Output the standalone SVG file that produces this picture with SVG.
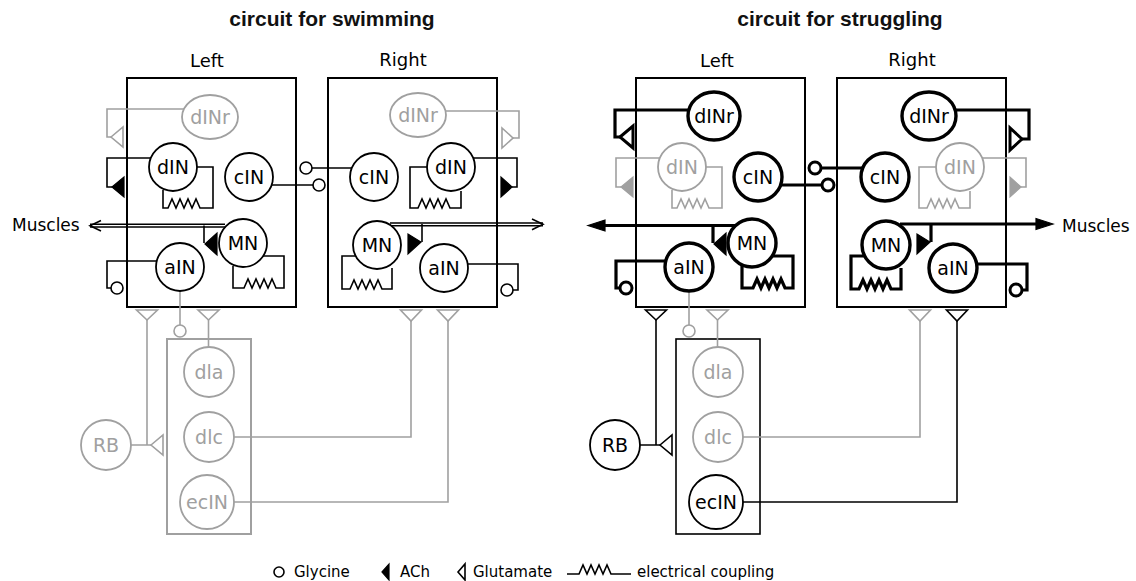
<svg xmlns="http://www.w3.org/2000/svg" width="1136" height="581" viewBox="0 0 1136 581">
<style>
.ttl{font-family:"Liberation Sans",Arial,sans-serif;font-weight:bold;font-size:21px;text-anchor:middle;fill:#111}
.lbl{font-family:"DejaVu Sans",sans-serif;font-size:18px;text-anchor:middle;fill:#000}
.mus{font-family:"DejaVu Sans",sans-serif;font-size:17px;fill:#000}
.leg{font-family:"DejaVu Sans",sans-serif;font-size:15px;fill:#000}
.bx{fill:none;stroke:#000;stroke-width:2}
.gb{fill:none;stroke:#a0a0a0;stroke-width:2}
.k{fill:none;stroke:#000;stroke-width:1.6}
.g{fill:none;stroke:#a0a0a0;stroke-width:1.6}
.t{fill:none;stroke:#000;stroke-width:3.2}
.ok{fill:#fff;stroke:#000;stroke-width:1.6}
.og{fill:#fff;stroke:#a0a0a0;stroke-width:1.6}
.ot{fill:#fff;stroke:#000;stroke-width:3}
.fk{fill:#000;stroke:#000;stroke-width:1.2}
.fg{fill:#a0a0a0;stroke:#a0a0a0;stroke-width:1.2}
.nk circle,.nk ellipse{fill:#fff;stroke:#000;stroke-width:1.8}
.ng circle,.ng ellipse{fill:#fff;stroke:#a0a0a0;stroke-width:1.8}
.nt circle,.nt ellipse{fill:#fff;stroke:#000;stroke-width:3.4}
.node text{font-family:"DejaVu Sans",sans-serif;font-size:19px;text-anchor:middle}
.nk text,.nt text{fill:#000}
.ng text{fill:#a0a0a0}
</style>

<!-- titles and labels -->
<text class="ttl" x="332" y="26">circuit for swimming</text>
<text class="ttl" x="840" y="26">circuit for struggling</text>
<text class="lbl" x="207" y="67">Left</text>
<text class="lbl" x="403" y="66">Right</text>
<text class="lbl" x="717" y="67">Left</text>
<text class="lbl" x="912" y="66">Right</text>
<text class="mus" x="12" y="231">Muscles</text>
<text class="mus" x="1062" y="232">Muscles</text>

<!-- boxes -->
<g id="boxes">
<rect class="bx" x="127" y="78" width="169" height="229"/>
<rect class="bx" x="328" y="78" width="169" height="229"/>
<rect class="gb" x="167" y="339" width="84" height="195"/>
<rect class="bx" x="636" y="78" width="169" height="229"/>
<rect class="bx" x="837" y="78" width="169" height="229"/>
<rect class="k" x="676" y="339" width="84" height="195"/>
</g>

<g id="connectors">
<!-- ===== swimming ===== -->
<path class="g" d="M190,109 H107 V137 H111"/>
<polygon class="og" points="111,137 123,127 123,147"/>
<path class="k" d="M165,158 H107 V187 H112"/>
<polygon class="fk" points="112,187 124,177 124,197"/>
<path class="k" d="M190,167 H213 V208 H200 l-4,-9 l-4,9 l-4,-9 l-4,9 l-4,-9 l-4,9 l-4,-9 l-4,9 H163 V190"/>
<path class="k" d="M260,185 H313"/>
<circle class="ok" cx="319" cy="185" r="6"/>
<path class="k" d="M365,168 H312"/>
<circle class="ok" cx="306" cy="168" r="6"/>
<path class="k" d="M225,224.3 H90 M225,227 H90"/>
<polyline class="k" points="101,220.5 90,225.7 101,231"/>
<path class="k" d="M204,225.5 V243"/>
<polygon class="fk" points="205,244 217,233 217,255"/>
<path class="k" d="M262,256 H284 V288 H276 l-4,-9 l-4,9 l-4,-9 l-4,9 l-4,-9 l-4,9 l-4,-9 l-4,9 H233 V266"/>
<path class="k" d="M170,261 H107 V288 H111"/>
<circle class="ok" cx="117" cy="288" r="6"/>
<path class="g" d="M180,291 V325"/>
<circle class="og" cx="180" cy="331" r="6"/>
<path class="g" d="M440,111 H519 V138 H513"/>
<polygon class="og" points="513,138 502,128 502,148"/>
<path class="k" d="M460,158 H517 V187 H512"/>
<polygon class="fk" points="512,187 501,177 501,197"/>
<path class="k" d="M430,167 H410 V208 H418 l4,-9 l4,9 l4,-9 l4,9 l4,-9 l4,9 l4,-9 l4,9 H461 V191"/>
<path class="k" d="M390,223 H543 M390,225.7 H543"/>
<polyline class="k" points="532,219 543,224.3 532,229.7"/>
<path class="k" d="M422,224 V242"/>
<polygon class="fk" points="408,234 408,254 421,242"/>
<path class="k" d="M358,256 H342 V289 H350 l4,-9 l4,9 l4,-9 l4,9 l4,-9 l4,9 l4,-9 l4,9 H392 V268"/>
<path class="k" d="M460,264 H518 V290 H513"/>
<circle class="ok" cx="507" cy="290" r="6"/>
<polygon class="og" points="136.5,310 157.5,310 147,320"/>
<path class="g" d="M147,320 V445 M120,445 H151"/>
<polygon class="og" points="151,445 163,435 163,455"/>
<polygon class="og" points="198,310 219,310 208.5,320"/>
<path class="g" d="M208.5,320 V347"/>
<path class="g" d="M225,437 H411 V321"/>
<polygon class="og" points="400.5,310 421.5,310 411,321"/>
<path class="g" d="M225,502 H448 V321"/>
<polygon class="og" points="437.5,310 458.5,310 448,321"/>

<!-- ===== struggling ===== -->
<path class="t" d="M700,110 H615 V137 H620"/>
<polygon class="ot" points="620,137 633,126 633,148"/>
<path class="g" d="M674,158 H616 V187 H621"/>
<polygon class="fg" points="621,187 633,177 633,197"/>
<path class="g" d="M699,167 H722 V208 H709 l-4,-9 l-4,9 l-4,-9 l-4,9 l-4,-9 l-4,9 l-4,-9 l-4,9 H672 V190"/>
<path class="t" d="M770,185 H822"/>
<circle class="ot" cx="828" cy="185" r="6"/>
<path class="t" d="M875,168 H821"/>
<circle class="ot" cx="815" cy="168" r="6"/>
<path class="t" d="M735,225.5 H602"/>
<polygon class="fk" points="588,225.5 605,220 605,231"/>
<path class="t" d="M713,225 V243"/>
<polygon class="fk" points="714,244 726,233 726,255"/>
<path class="t" d="M771,256 H793 V288 H785 l-4,-9 l-4,9 l-4,-9 l-4,9 l-4,-9 l-4,9 l-4,-9 l-4,9 H742 V266"/>
<path class="t" d="M679,261 H616 V288 H620"/>
<circle class="ot" cx="626" cy="288" r="6"/>
<path class="g" d="M689,291 V325"/>
<circle class="og" cx="689" cy="331" r="6"/>
<path class="t" d="M950,110 H1029 V139 H1022"/>
<polygon class="ot" points="1022,139 1010,128 1010,150"/>
<path class="g" d="M969,158 H1026 V187 H1021"/>
<polygon class="fg" points="1021,187 1010,177 1010,197"/>
<path class="g" d="M939,167 H919 V208 H927 l4,-9 l4,9 l4,-9 l4,9 l4,-9 l4,9 l4,-9 l4,9 H970 V191"/>
<path class="t" d="M900,224 H1039"/>
<polygon class="fk" points="1053,224 1036,218.5 1036,229.5"/>
<path class="t" d="M931,224 V242"/>
<polygon class="fk" points="917,234 917,254 930,242"/>
<path class="t" d="M867,256 H851 V289 H859 l4,-9 l4,9 l4,-9 l4,9 l4,-9 l4,9 l4,-9 l4,9 H901 V268"/>
<path class="t" d="M969,264 H1027 V290 H1022"/>
<circle class="ot" cx="1016" cy="290" r="6"/>
<polygon class="ok" points="645.5,310 666.5,310 656,320"/>
<path class="k" d="M656,320 V445 M630,445 H660"/>
<polygon class="ok" points="660,445 672,435 672,455"/>
<polygon class="og" points="707,310 728,310 717.5,320"/>
<path class="g" d="M717.5,320 V347"/>
<path class="g" d="M735,437 H920 V321"/>
<polygon class="og" points="909.5,310 930.5,310 920,321"/>
<path class="k" d="M735,502 H957 V321"/>
<polygon class="ok" points="946.5,310 967.5,310 957,321"/>
</g>

<!-- ===== nodes: swimming ===== -->
<g id="sw-L-dINr" class="node ng"><ellipse cx="210" cy="117" rx="28" ry="22"/><text x="210" y="124">dINr</text></g>
<g id="sw-L-dIN" class="node nk"><circle cx="173" cy="167" r="24"/><text x="173" y="174">dIN</text></g>
<g id="sw-L-cIN" class="node nk"><circle cx="249" cy="177" r="24"/><text x="249" y="184">cIN</text></g>
<g id="sw-L-MN" class="node nk"><circle cx="243" cy="243" r="24"/><text x="243" y="250">MN</text></g>
<g id="sw-L-aIN" class="node nk"><circle cx="180" cy="267" r="24"/><text x="180" y="274">aIN</text></g>
<g id="sw-R-dINr" class="node ng"><ellipse cx="418" cy="115" rx="28" ry="22"/><text x="418" y="122">dINr</text></g>
<g id="sw-R-cIN" class="node nk"><circle cx="374" cy="177" r="24"/><text x="374" y="184">cIN</text></g>
<g id="sw-R-dIN" class="node nk"><circle cx="451" cy="167" r="24"/><text x="451" y="174">dIN</text></g>
<g id="sw-R-MN" class="node nk"><circle cx="377" cy="245" r="24"/><text x="377" y="252">MN</text></g>
<g id="sw-R-aIN" class="node nk"><circle cx="444" cy="268" r="24"/><text x="444" y="275">aIN</text></g>
<g id="sw-dla" class="node ng"><circle cx="209" cy="372" r="25"/><text x="209" y="379">dla</text></g>
<g id="sw-dlc" class="node ng"><circle cx="209" cy="437" r="25"/><text x="209" y="444">dlc</text></g>
<g id="sw-ecIN" class="node ng"><circle cx="207" cy="502" r="27"/><text x="207" y="509">ecIN</text></g>
<g id="sw-RB" class="node ng"><circle cx="106" cy="445" r="25"/><text x="106" y="452">RB</text></g>

<!-- ===== nodes: struggling ===== -->
<g id="st-L-dINr" class="node nt"><ellipse cx="714" cy="116" rx="26" ry="24"/><text x="714" y="123">dINr</text></g>
<g id="st-L-dIN" class="node ng"><circle cx="682" cy="167" r="24"/><text x="682" y="174">dIN</text></g>
<g id="st-L-cIN" class="node nt"><circle cx="758" cy="177" r="24"/><text x="758" y="184">cIN</text></g>
<g id="st-L-MN" class="node nt"><circle cx="752" cy="243" r="24"/><text x="752" y="250">MN</text></g>
<g id="st-L-aIN" class="node nt"><circle cx="689" cy="267" r="24"/><text x="689" y="274">aIN</text></g>
<g id="st-R-dINr" class="node nt"><ellipse cx="929" cy="116" rx="27" ry="24"/><text x="929" y="123">dINr</text></g>
<g id="st-R-cIN" class="node nt"><circle cx="885" cy="177" r="24"/><text x="885" y="184">cIN</text></g>
<g id="st-R-dIN" class="node ng"><circle cx="960" cy="167" r="24"/><text x="960" y="174">dIN</text></g>
<g id="st-R-MN" class="node nt"><circle cx="886" cy="245" r="24"/><text x="886" y="252">MN</text></g>
<g id="st-R-aIN" class="node nt"><circle cx="953" cy="268" r="24"/><text x="953" y="275">aIN</text></g>
<g id="st-dla" class="node ng"><circle cx="718" cy="372" r="25"/><text x="718" y="379">dla</text></g>
<g id="st-dlc" class="node ng"><circle cx="718" cy="437" r="25"/><text x="718" y="444">dlc</text></g>
<g id="st-ecIN" class="node nk"><circle cx="716" cy="502" r="27"/><text x="716" y="509">ecIN</text></g>
<g id="st-RB" class="node nk"><circle cx="615" cy="445" r="25"/><text x="615" y="452">RB</text></g>

<!-- legend -->
<g id="legend">
<circle class="ok" cx="279" cy="572" r="5"/>
<text class="leg" x="294" y="577">Glycine</text>
<polygon class="fk" points="382,572 389,564 389,580"/>
<text class="leg" x="400" y="577">ACh</text>
<polygon class="ok" points="458,572 465,564 465,580"/>
<text class="leg" x="473" y="577">Glutamate</text>
<path class="k" d="M567,574 H579 l4,-9 l4,9 l4,-9 l4,9 l4,-9 l4,9 l4,-9 l4,9 H631"/>
<text class="leg" x="637" y="577">electrical coupling</text>
</g>
</svg>
